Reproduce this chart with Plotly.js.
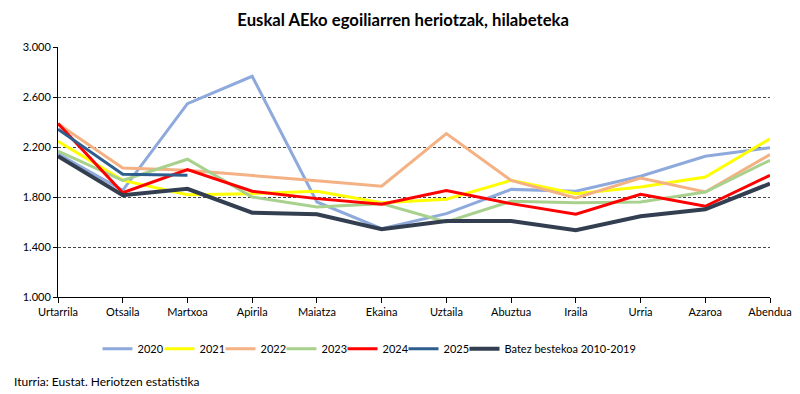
<!DOCTYPE html>
<html><head><meta charset="utf-8">
<script src="https://cdn.plot.ly/plotly-3.0.1.min.js"></script>
<style>body{margin:0;background:#fff}#c{width:800px;height:394px}</style>
</head><body><div id="c"></div>
<script>
const months = ["Urtarrila","Otsaila","Martxoa","Apirila","Maiatza","Ekaina","Uztaila","Abuztua","Iraila","Urria","Azaroa","Abendua"];
const y2020 = [2145,1853,2547,2766,1760,1547,1667,1861,1846,1966,2126,2194];
const y2021 = [2246,1933,1818,1827,1846,1754,1782,1933,1827,1880,1960,2266];
const y2022 = [2387,2032,2014,1974,1930,1886,2307,1933,1792,1952,1840,2139];
const y2023 = [2168,1933,2102,1800,1720,1747,1600,1766,1755,1760,1840,2094];
const y2024 = [2387,1834,2019,1846,1787,1742,1852,1747,1662,1822,1726,1974];
const y2025 = [2342,1982,1974];
const yAvg  = [2126,1814,1866,1674,1662,1542,1608,1608,1534,1646,1702,1907];
const names = ["2020","2021","2022","2023","2024","2025","Batez bestekoa 2010-2019"];
const series = [y2020,y2021,y2022,y2023,y2024,y2025,yAvg];
const colors = ["#8EA9DB","#FFFF00","#F4B183","#A9D18E","#FF0000","#2E5E8E","#333F50"];
const widths = [3,3,3,3,3,3,4];
const font = "Lato, 'Open Sans', sans-serif";
const legIds = series.map((_,i)=> i === 0 ? "legend" : "legend" + (i+1));
const traces = series.map((ys,i)=>({
  type:"scatter", mode:"lines", name:names[i],
  x: months.slice(0, ys.length), y: ys,
  line:{color:colors[i], width:widths[i]},
  legend: legIds[i],
  hoverinfo:"skip"
}));
const legTextX = [138,200,261,322,383,444,505];
const layout = {
  width:800, height:394,
  margin:{l:58,r:30,t:47,b:97},
  paper_bgcolor:"#fff", plot_bgcolor:"#fff",
  separators:",.",
  font:{family:font, size:11, color:"#000"},
  title:{text:"<b>Euskal AEko egoiliarren heriotzak, hilabeteka</b>", x:0.504, xanchor:"center", y:0.95, yanchor:"middle", yref:"container", font:{size:16.7, family:font, color:"#000"}},
  xaxis:{type:"category", range:[0,11], showline:true, linecolor:"#000", linewidth:1, ticks:"outside", ticklen:5, tickcolor:"#000", showgrid:false, zeroline:false, tickfont:{size:11}, fixedrange:true},
  yaxis:{range:[1000,3000], dtick:400, tick0:1000, tickformat:",d", showline:true, linecolor:"#000", linewidth:1, ticks:"outside", ticklen:4, tickcolor:"#000", showgrid:true, gridcolor:"#444", griddash:"3px,2px", gridwidth:1, zeroline:false, tickfont:{size:11}, fixedrange:true},
  showlegend:true,
  annotations:[{text:"Iturria: Eustat. Heriotzen estatistika", xref:"paper", yref:"paper", x:-0.0646, y:-0.336, xanchor:"left", yanchor:"middle", showarrow:false, font:{size:12}}]
};
legIds.forEach((id,i)=>{
  layout[id] = {orientation:"h", xref:"container", yref:"container", x:(legTextX[i]-40.5)/800, y:0.115, xanchor:"left", yanchor:"middle", font:{size:11}, itemwidth:30, bgcolor:"rgba(0,0,0,0)"};
});
Plotly.newPlot("c", traces, layout, {displayModeBar:false, staticPlot:true});
</script></body></html>
